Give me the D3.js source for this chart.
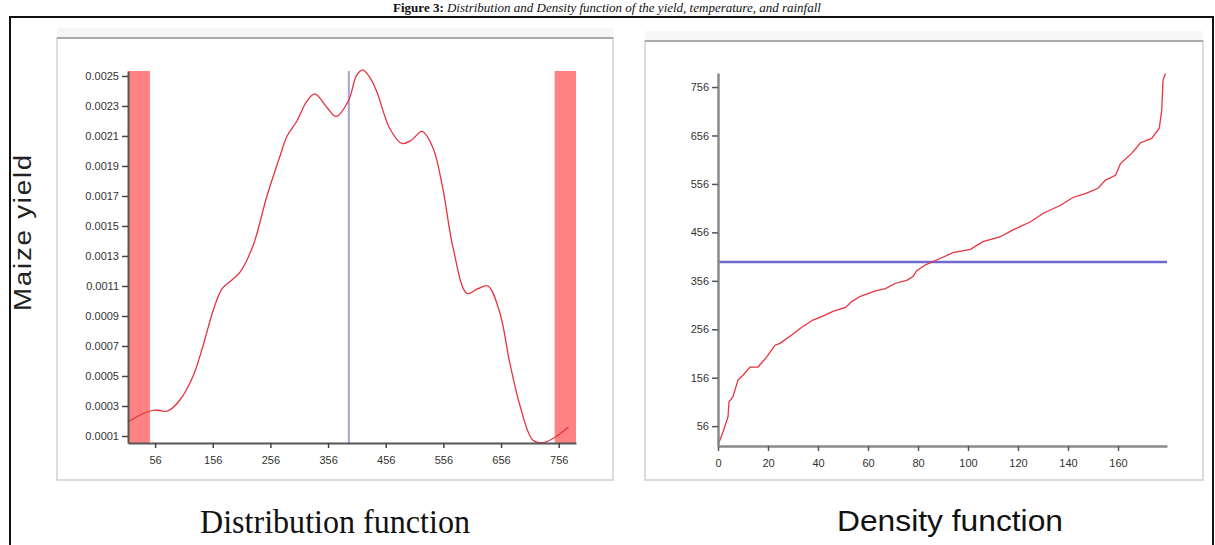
<!DOCTYPE html>
<html><head><meta charset="utf-8">
<script src="https://cdn.jsdelivr.net/npm/d3@7"></script>
<style>
html,body{margin:0;padding:0;background:#fff;overflow:hidden;}
svg{display:block;}
.tick text{font-family:"Liberation Sans",Arial,sans-serif;font-size:11px;fill:#333;}
</style></head>
<body>
<script>
// ---------- DATA ----------
// Left panel: kernel density of maize yield
const densX = [9, 25, 42, 56, 78, 99, 122, 139, 157, 172, 189, 203, 226, 250, 273, 285, 302, 319, 333, 354, 370, 392, 405, 416, 430, 441, 463, 484, 500, 519, 538, 555, 573, 597, 615, 633, 654, 671, 689, 711, 728, 749, 773];
const densY = [0.000193, 0.00023, 0.00026, 0.000273, 0.000267, 0.00034, 0.0005, 0.0007, 0.00094, 0.00108, 0.00114, 0.00119, 0.00137, 0.0017, 0.00197, 0.0021, 0.0022, 0.00233, 0.00238, 0.00229, 0.00223, 0.00234, 0.0025, 0.00254, 0.00248, 0.00239, 0.00215, 0.00205, 0.00207, 0.00213, 0.00202, 0.00175, 0.00135, 0.00105, 0.00108, 0.0011, 0.00092, 0.00059, 0.0003, 0.000073, 0.000055, 0.00009, 0.00016];
const bandLeft = [9, 47];
const bandRight = [749, 786];
const meanLeft = 392;
const leftYTicks = [0.0001, 0.0003, 0.0005, 0.0007, 0.0009, 0.0011, 0.0013, 0.0015, 0.0017, 0.0019, 0.0021, 0.0023, 0.0025];
const leftXTicks = [56, 156, 256, 356, 456, 556, 656, 756];

// Right panel: sorted yield values by observation rank
const rankIdx = [0, 2, 4, 4.4, 6, 8, 10, 12.8, 16, 19.5, 22.8, 24.8, 29.5, 33.5, 38, 41.5, 46, 51, 53.5, 57, 63, 67, 71, 75.5, 78, 79.5, 83, 87.5, 94, 101, 106, 113, 118, 125, 130, 137, 142, 147, 152, 155, 159, 161, 165.5, 169, 173.5, 176.5, 177.5, 178, 179];
const rankVal = [17, 44, 75, 106, 117, 151, 161, 178, 178, 199, 223, 227, 244, 260, 275, 282, 293, 301, 313, 324, 335, 340, 351, 357, 365, 377, 389, 399, 414, 421, 437, 447, 461, 478, 495, 512, 528, 536, 547, 564, 574, 598, 619, 641, 650, 671, 708, 770, 784];
const meanRight = 395;
const rightYTicks = [56, 156, 256, 356, 456, 556, 656, 756];
const rightXTicks = [0, 20, 40, 60, 80, 100, 120, 140, 160];

// ---------- DRAW ----------
const W = 1215, H = 545;
const svg = d3.select("body").append("svg").attr("width", W).attr("height", H);

// caption
const cap = svg.append("text").attr("x", 607).attr("y", 12).attr("text-anchor", "middle")
  .style("font-family", "'Liberation Serif','Times New Roman',serif").style("font-size", "13px").attr("fill", "#111");
cap.append("tspan").style("font-weight", "bold").text("Figure 3: ");
cap.append("tspan").style("font-style", "italic").text("Distribution and Density function of the yield, temperature, and rainfall");

// outer black box
svg.append("path").attr("d", `M10,${H+2} V17 H1213 V${H+2}`).attr("fill", "none").attr("stroke", "#111").attr("stroke-width", 2);

// panel frames
function frame(x0, y0, x1, y1) {
  svg.append("rect").attr("x", x0).attr("y", y0 - 10).attr("width", x1 - x0).attr("height", 10).attr("fill", "#f6f6f6");
  svg.append("rect").attr("x", x0).attr("y", y0).attr("width", x1 - x0).attr("height", y1 - y0)
    .attr("fill", "#fff").attr("stroke", "#cfcfcf").attr("stroke-width", 1.5);
  svg.append("line").attr("x1", x0).attr("x2", x1).attr("y1", y0).attr("y2", y0).attr("stroke", "#9a9a9a").attr("stroke-width", 1.5);
}
frame(57, 38, 613, 480);
frame(645, 41, 1203, 480);

// y label
svg.append("text").attr("transform", "translate(31,232) rotate(-90)").attr("text-anchor", "middle")
  .attr("textLength", 158).attr("lengthAdjust", "spacingAndGlyphs")
  .style("font-family", "'Liberation Sans',Arial,sans-serif").style("font-size", "23px").style("letter-spacing", "1.5px")
  .attr("fill", "#222").text("Maize yield");

// ---- left plot ----
const xL = d3.scaleLinear().domain([9, 786]).range([128, 576]);
const yL = d3.scaleLinear().domain([0.0000533, 0.002533]).range([443, 71]);

[bandLeft, bandRight].forEach(b => {
  svg.append("rect").attr("x", xL(b[0])).attr("y", yL.range()[1]).attr("width", xL(b[1]) - xL(b[0]))
    .attr("height", yL.range()[0] - yL.range()[1]).attr("fill", "#ff8282");
});
svg.append("line").attr("x1", xL(meanLeft)).attr("x2", xL(meanLeft)).attr("y1", 71).attr("y2", 443)
  .attr("stroke", "#a3a3de").attr("stroke-width", 2);

const dens = densX.map((x, i) => [x, densY[i]]);
svg.append("path").datum(dens).attr("fill", "none").attr("stroke", "#e8323c").attr("stroke-width", 1.3)
  .attr("d", d3.line().x(d => xL(d[0])).y(d => yL(d[1])).curve(d3.curveCatmullRom.alpha(0.5)));

const axL = svg.append("g").attr("transform", "translate(0,443)")
  .call(d3.axisBottom(xL).tickValues(leftXTicks).tickSize(5).tickSizeOuter(0).tickPadding(8).tickFormat(d3.format("d")));
const ayL = svg.append("g").attr("transform", "translate(128,0)")
  .call(d3.axisLeft(yL).tickValues(leftYTicks).tickSize(6).tickSizeOuter(0).tickPadding(3).tickFormat(d3.format(".4f")));
[axL, ayL].forEach(g => {
  g.select(".domain").attr("stroke", "#555").attr("stroke-width", 2);
  g.selectAll(".tick line").attr("stroke", "#444").attr("stroke-width", 1.5);
});

// ---- right plot ----
const xR = d3.scaleLinear().domain([0, 179.6]).range([718, 1167]);
const yR = d3.scaleLinear().domain([15, 785]).range([446, 73]);

svg.append("line").attr("x1", xR(0)).attr("x2", xR(179.6)).attr("y1", yR(meanRight)).attr("y2", yR(meanRight))
  .attr("stroke", "#6c6cd0").attr("stroke-width", 2.5);

const ranks = rankIdx.map((x, i) => [x, rankVal[i]]);
svg.append("path").datum(ranks).attr("fill", "none").attr("stroke", "#e8323c").attr("stroke-width", 1.3)
  .attr("d", d3.line().x(d => xR(d[0])).y(d => yR(d[1])));

const axR = svg.append("g").attr("transform", "translate(0,446)")
  .call(d3.axisBottom(xR).tickValues(rightXTicks).tickSize(5).tickSizeOuter(0).tickPadding(8).tickFormat(d3.format("d")));
const ayR = svg.append("g").attr("transform", "translate(718,0)")
  .call(d3.axisLeft(yR).tickValues(rightYTicks).tickSize(6).tickSizeOuter(0).tickPadding(3).tickFormat(d3.format("d")));
[axR, ayR].forEach(g => {
  g.select(".domain").attr("stroke", "#8a8a8a").attr("stroke-width", 2.5);
  g.selectAll(".tick line").attr("stroke", "#555").attr("stroke-width", 1.5);
});

// panel captions
svg.append("text").attr("x", 335).attr("y", 533).attr("text-anchor", "middle")
  .attr("textLength", 270).attr("lengthAdjust", "spacingAndGlyphs")
  .style("font-family", "'Liberation Serif','Times New Roman',serif").style("font-size", "33px").attr("fill", "#111")
  .text("Distribution function");
svg.append("text").attr("x", 950).attr("y", 531).attr("text-anchor", "middle")
  .attr("textLength", 226).attr("lengthAdjust", "spacingAndGlyphs")
  .style("font-family", "'Liberation Sans',Arial,sans-serif").style("font-size", "30px").attr("fill", "#111")
  .text("Density function");
</script>
</body></html>
